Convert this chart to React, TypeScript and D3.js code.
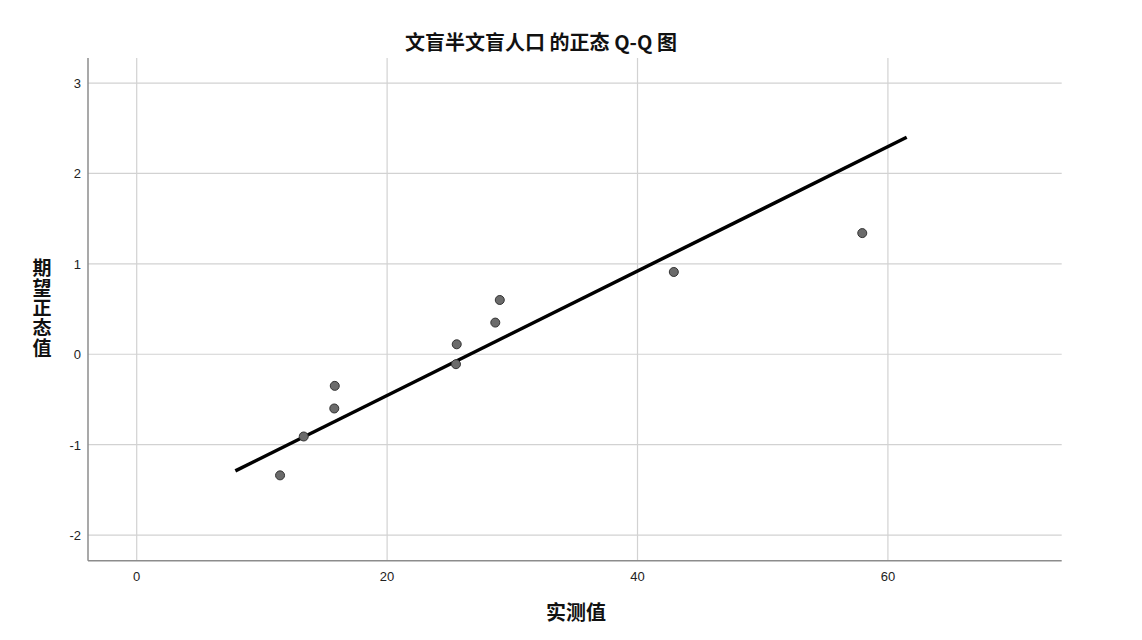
import React from 'react';
import * as d3 from 'd3';

const observed = [11.45, 13.34, 15.78, 15.82, 25.5, 25.56, 28.64, 29.0, 42.9, 57.95];
const expected = [-1.34, -0.91, -0.6, -0.35, -0.11, 0.11, 0.35, 0.6, 0.91, 1.34];

// reference line end points
const lineX = [7.88, 61.5];
const lineY = [-1.29, 2.4];

const xTicks = [0, 20, 40, 60];
const yTicks = [-2, -1, 0, 1, 2, 3];

const title = '文盲半文盲人口 的正态 Q-Q 图';
const xLabel = '实测值';
const yLabel = '期望正态值';

export default function App() {
  const width = 1142;
  const height = 640;
  const left = 88;
  const right = 1061.7;
  const top = 58;
  const bottom = 560.7;

  const x = d3.scaleLinear().domain([-3.89, 73.88]).range([left, right]);
  const y = d3.scaleLinear().domain([-2.284, 3.277]).range([bottom, top]);

  const pts = observed.map((v, i) => ({ x: v, y: expected[i] }));
  const refLine = d3
    .line<number>()
    .x((d) => x(d))
    .y((_, i) => y(lineY[i]));

  const tickFont = '"Liberation Sans", Arial, sans-serif';
  const cjkFont = '"Noto Sans CJK SC", sans-serif';

  return (
    <svg
      width={width}
      height={height}
      style={{ position: 'absolute', left: 0, top: 0, background: '#fff' }}
    >
      {/* grid */}
      {xTicks.map((t) => (
        <line key={'gx' + t} x1={x(t)} x2={x(t)} y1={top} y2={bottom} stroke="#d2d2d2" strokeWidth={1.2} />
      ))}
      {yTicks.map((t) => (
        <line key={'gy' + t} x1={left} x2={right} y1={y(t)} y2={y(t)} stroke="#d2d2d2" strokeWidth={1.2} />
      ))}

      {/* axes */}
      <line x1={left} x2={left} y1={top} y2={bottom} stroke="#8c8c8c" strokeWidth={1.5} />
      <line x1={left} x2={right} y1={bottom} y2={bottom} stroke="#8c8c8c" strokeWidth={1.5} />

      {/* tick labels */}
      {xTicks.map((t) => (
        <text key={'tx' + t} x={x(t)} y={bottom + 20} textAnchor="middle" fontSize={13} fontFamily={tickFont} fill="#222">
          {t}
        </text>
      ))}
      {yTicks.map((t) => (
        <text key={'ty' + t} x={left - 7} y={y(t) + 5} textAnchor="end" fontSize={13} fontFamily={tickFont} fill="#222">
          {t}
        </text>
      ))}

      {/* reference line */}
      <path d={refLine(lineX) as string} stroke="#000" strokeWidth={3.5} fill="none" />

      {/* points */}
      {pts.map((p, i) => (
        <circle key={i} cx={x(p.x)} cy={y(p.y)} r={4.5} fill="#6b6b6b" stroke="#333" strokeWidth={1} />
      ))}

      {/* title */}
      <text x={541} y={50} textAnchor="middle" fontSize={20} fontWeight="bold" fontFamily={cjkFont} fill="#111">
        {title}
      </text>

      {/* x label */}
      <text x={576} y={620} textAnchor="middle" fontSize={20} fontWeight="bold" fontFamily={cjkFont} fill="#111">
        {xLabel}
      </text>

      {/* y label, written top to bottom */}
      <text
        x={42}
        y={258}
        fontSize={19}
        fontWeight="bold"
        fontFamily={cjkFont}
        fill="#111"
        style={{ writingMode: 'vertical-rl', letterSpacing: '1px' }}
      >
        {yLabel}
      </text>
    </svg>
  );
}
